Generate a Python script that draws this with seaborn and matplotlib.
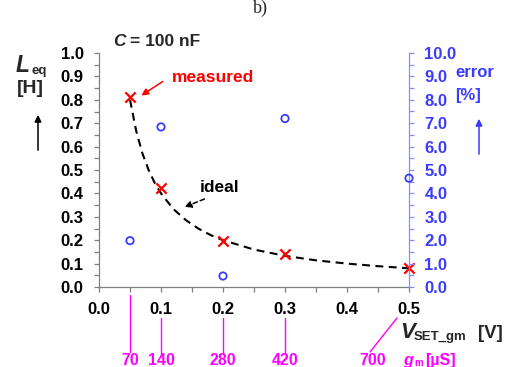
import matplotlib
matplotlib.use("Agg")
import matplotlib.pyplot as plt
from matplotlib.lines import Line2D
from matplotlib.patches import FancyArrowPatch, ConnectionPatch
from matplotlib.ticker import MultipleLocator, FormatStrFormatter
from matplotlib.transforms import blended_transform_factory, offset_copy
import seaborn as sns

# Measured equivalent inductance and relative error vs. SET voltage
v_set = [0.05, 0.1, 0.2, 0.3, 0.5]
l_measured = [0.81, 0.425, 0.198, 0.141, 0.082]
error_pct = [1.98, 6.84, 0.47, 7.2, 4.65]

# Ideal inductance curve
v_ideal = [0.05, 0.06, 0.07, 0.08, 0.09, 0.10, 0.12, 0.14, 0.16, 0.18,
           0.20, 0.25, 0.30, 0.35, 0.40, 0.45, 0.50]
l_ideal = [0.80, 0.667, 0.571, 0.50, 0.444, 0.40, 0.333, 0.286, 0.25, 0.222,
           0.20, 0.16, 0.133, 0.114, 0.10, 0.089, 0.08]

# Transconductance belonging to each SET voltage [uS]
gm_values = [70, 140, 280, 420, 700]

RED = "#ff0000"
BLUE = "#3b3bff"
BLUE_AX = "#8a8aff"
MAGENTA = "#ff00ff"
GREY = "#808080"

sns.set_theme(style="white")
plt.rcParams["font.family"] = ["Liberation Sans", "DejaVu Sans"]
plt.rcParams["font.weight"] = "bold"

W, H = 508, 367
fig = plt.figure(figsize=(W / 100, H / 100), dpi=100)
fig.patch.set_facecolor("white")


def fx(px):
    return px / W


def fy(py):
    return 1 - py / H


ax = fig.add_axes([fx(99), fy(287), fx(409) - fx(99), fy(53) - fy(287)])
ax.set_facecolor("none")

# ideal curve
sns.lineplot(x=v_ideal, y=l_ideal, ax=ax, color="black", linewidth=1.5,
             zorder=2)
ax.lines[-1].set_dashes([3.8, 2.6])

# measured points
sns.scatterplot(x=v_set, y=l_measured, ax=ax, marker="x", color=RED, s=55,
                linewidth=1.6, zorder=4, clip_on=False)

ax.set_xlim(0, 0.5)
ax.set_ylim(0, 1.0)
ax.xaxis.set_major_locator(MultipleLocator(0.1))
ax.xaxis.set_minor_locator(MultipleLocator(0.05))
ax.yaxis.set_major_locator(MultipleLocator(0.1))
ax.yaxis.set_minor_locator(MultipleLocator(0.05))
ax.xaxis.set_major_formatter(FormatStrFormatter("%.1f"))
ax.yaxis.set_major_formatter(FormatStrFormatter("%.1f"))
ax.tick_params(axis="both", which="both", direction="out", length=3.6,
               width=0.9, color=GREY, pad=7.5, labelsize=12,
               labelcolor="black", bottom=True, left=True)
for s in ("top", "right"):
    ax.spines[s].set_visible(False)
for s in ("left", "bottom"):
    ax.spines[s].set_color(GREY)
    ax.spines[s].set_linewidth(0.9)
ax.set_xlabel("")
ax.set_ylabel("")

# error on the right axis
ax2 = ax.twinx()
sns.scatterplot(x=v_set, y=error_pct, ax=ax2, marker="o", s=28,
                color=BLUE, linewidth=1.3, zorder=4, clip_on=False)
pts = ax2.collections[-1]
pts.set_facecolor("none")
pts.set_edgecolor(BLUE)
ax2.set_ylim(0, 10)
ax2.set_xlim(0, 0.5)
ax2.yaxis.set_major_locator(MultipleLocator(1.0))
ax2.yaxis.set_minor_locator(MultipleLocator(0.5))
ax2.yaxis.set_major_formatter(FormatStrFormatter("%.1f"))
ax2.tick_params(axis="y", which="both", direction="out", length=3.6,
                width=0.9, color=BLUE_AX, pad=7.5, labelsize=12,
                labelcolor=BLUE, right=True)
for s in ("top", "left", "bottom"):
    ax2.spines[s].set_visible(False)
ax2.spines["right"].set_color(BLUE_AX)
ax2.spines["right"].set_linewidth(0.9)
ax2.set_ylabel("")

# panel label and annotations
fig.text(fx(253), fy(13), "b)", family="Liberation Serif", weight="normal",
         size=13, va="baseline")
fig.text(fx(113), fy(46), "C", style="italic", size=12.5, va="baseline")
fig.text(fx(130), fy(46), "= 100 nF", size=12.5, va="baseline")

fig.text(fx(16), fy(72), "L", style="italic", size=16.5, va="baseline")
fig.text(fx(32), fy(74), "eq", size=9.5, va="baseline")
fig.text(fx(17), fy(93), "[H]", size=14, va="baseline")
fig.add_artist(FancyArrowPatch(
    (fx(38), fy(153)), (fx(38), fy(112)), transform=fig.transFigure,
    arrowstyle="-|>", mutation_scale=10, color="black", lw=1.1))

fig.text(fx(455), fy(77), "error", size=12, color=BLUE, va="baseline")
fig.text(fx(455), fy(100), "[%]", size=12, color=BLUE, va="baseline")
fig.add_artist(FancyArrowPatch(
    (fx(479), fy(157)), (fx(479), fy(116)), transform=fig.transFigure,
    arrowstyle="-|>", mutation_scale=10, color=BLUE, lw=1.1))

fig.text(fx(172), fy(82), "measured", size=12.5, color=RED, va="baseline")
fig.add_artist(FancyArrowPatch(
    (fx(165), fy(80)), (fx(139), fy(97)), transform=fig.transFigure,
    arrowstyle="-|>", mutation_scale=10, color=RED, lw=1.1))

fig.text(fx(200), fy(192), "ideal", size=12.5, color="black", va="baseline")
fig.add_artist(FancyArrowPatch(
    (fx(207), fy(198)), (fx(182), fy(208)), transform=fig.transFigure,
    arrowstyle="-|>", mutation_scale=10, color="black", lw=1.1,
    linestyle=(0, (3, 2))))

# x-axis title
fig.text(fx(400), fy(338), "V", style="italic", size=16, va="baseline")
fig.text(fx(414), fy(340), "SET_gm", size=9.5, va="baseline")
fig.text(fx(478), fy(338), "[V]", size=13.5, va="baseline")

# transconductance scale below the voltage axis
GM_BASE = fy(365)
trans = blended_transform_factory(ax.transData, fig.transFigure)
for v, gm in zip(v_set, gm_values):
    if v == v_set[0]:
        fig.add_artist(Line2D([v, v], [fy(295), fy(352)], transform=trans,
                              color=MAGENTA, lw=1.0))
        fig.text(v, GM_BASE, str(gm), transform=trans, ha="center",
                 va="baseline", size=11.5, color=MAGENTA)
    elif v == v_set[-1]:
        t0 = offset_copy(trans, fig=fig, x=-12, y=0, units="dots")
        t1 = offset_copy(trans, fig=fig, x=-39, y=0, units="dots")
        fig.add_artist(ConnectionPatch(
            (v, fy(318)), (v, fy(352)), coordsA=t0, coordsB=t1,
            color=MAGENTA, lw=1.0))
        t_lbl = offset_copy(trans, fig=fig, x=-36, y=0, units="dots")
        fig.text(v, GM_BASE, str(gm), transform=t_lbl, ha="center",
                 va="baseline", size=11.5, color=MAGENTA)
    else:
        fig.add_artist(Line2D([v, v], [fy(318), fy(354)], transform=trans,
                              color=MAGENTA, lw=1.0))
        fig.text(v, GM_BASE, str(gm), transform=trans, ha="center",
                 va="baseline", size=11.5, color=MAGENTA)

fig.text(fx(403), GM_BASE, "g", style="italic", size=11.5, color=MAGENTA,
         va="baseline")
fig.text(fx(414), fy(366), "m", size=7, color=MAGENTA, va="baseline")
fig.text(fx(425), GM_BASE, "[\u00b5S]", size=11.5, color=MAGENTA,
         va="baseline")

fig.savefig("out.png", dpi=100)
